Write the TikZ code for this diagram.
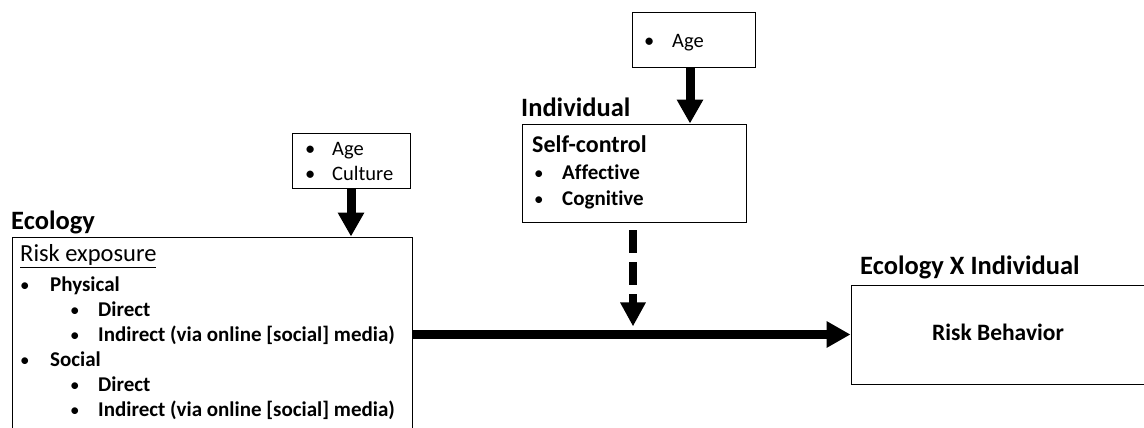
\documentclass[tikz,border=0pt]{standalone}
\usepackage{fontspec}
\setmainfont{Carlito}[Ligatures=NoCommon]
\usetikzlibrary{arrows.meta,calc}
\begin{document}
\begin{tikzpicture}[x=1pt,y=-1pt,
  box/.style={draw, line width=0.9pt, inner sep=0pt},
  base/.style={anchor=west, inner sep=0pt, text height=0.7em, text depth=0.2em},
  txtb/.style={base, font=\fontsize{21}{25}\selectfont\bfseries},
  bul/.style={base, font=\fontsize{19}{22}\selectfont},
  small/.style={base, font=\fontsize{20.5}{24}\selectfont},
  ttl/.style={base, font=\fontsize{26.5}{31}\selectfont\bfseries},
  bigarrow/.style={line width=9pt, -{Triangle[length=24pt,width=25pt]}},
]
\useasboundingbox (0,0) rectangle (1144,428);
\clip (0,0) rectangle (1144,428);

% boxes
\node[box, minimum width=400pt, minimum height=220pt] (eco) at (212,347) {};
\node[box, minimum width=118pt, minimum height=55pt] (ac) at (351,160.5) {};
\node[box, minimum width=224pt, minimum height=98pt] (indiv) at (634,173) {};
\node[box, minimum width=123pt, minimum height=55pt] (age) at (693.5,39.5) {};
\node[box, minimum width=294pt, minimum height=99pt] (risk) at (998,334.5) {};
\node[base, anchor=center, font=\fontsize{23.5}{27}\selectfont\bfseries] (rb) at (998,338) {Risk Behavior};

% titles
\node[ttl] (ecot) at (11,227) {Ecology};
\node[ttl] (indt) at (521,114) {Individual};
\node[ttl] (ecoxt) at (860,272) {Ecology X Individual};

% ecology contents
\node[base, font=\fontsize{24.5}{28}\selectfont] (re) at (20,259) {\underline{Risk exposure}};
\node[bul] (b1) at (20,288.5) {\textbullet};
\node[txtb] (phys) at (50,288.5) {Physical};
\node[bul] (b2) at (70,313.5) {\textbullet};
\node[txtb] (pd) at (98,313.5) {Direct};
\node[bul] (b3) at (70,338.5) {\textbullet};
\node[txtb] (pi) at (98,338.5) {Indirect (via online [social] media)};
\node[bul] (b4) at (20,363.5) {\textbullet};
\node[txtb] (soc) at (50,363.5) {Social};
\node[bul] (b5) at (70,389) {\textbullet};
\node[txtb] (sd) at (98,389) {Direct};
\node[bul] (b6) at (70,414) {\textbullet};
\node[txtb] (si) at (98,414) {Indirect (via online [social] media)};

% age / culture
\node[small] (acb1) at (305,153) {\textbullet};
\node[small] (acage) at (332,153) {Age};
\node[small] (acb2) at (305,178) {\textbullet};
\node[small] (accul) at (332,178) {Culture};

% individual contents
\node[base, font=\fontsize{24}{28}\selectfont\bfseries] (sc) at (532,150) {Self-control};
\node[bul] (ib1) at (534,177) {\textbullet};
\node[txtb] (aff) at (562,177) {Affective};
\node[bul] (ib2) at (534,202.5) {\textbullet};
\node[txtb] (cog) at (562,202.5) {Cognitive};

% age (top)
\node[small] (agb) at (644,45) {\textbullet};
\node[small] (agtxt) at (672,45) {Age};

% arrows
\draw[bigarrow] (ac.south) -- (ac.south |- eco.north);
\coordinate (agefrom) at ($(age.south)+(-3.5,0)$);
\coordinate (ageto) at (agefrom |- indiv.north);
\draw[bigarrow] (agefrom) -- (ageto);
\draw[bigarrow] (eco.east |- risk.west) -- (risk.west);
\coordinate (modfrom) at ($(indiv.south)+(-1,8)$);
\coordinate (mod) at ($(indiv.south)+(-1,104)$);
\draw[line width=8pt, dash pattern=on 23pt off 9pt, -{Triangle[length=24pt,width=24pt]}] (modfrom) -- (mod);
\end{tikzpicture}
\end{document}
